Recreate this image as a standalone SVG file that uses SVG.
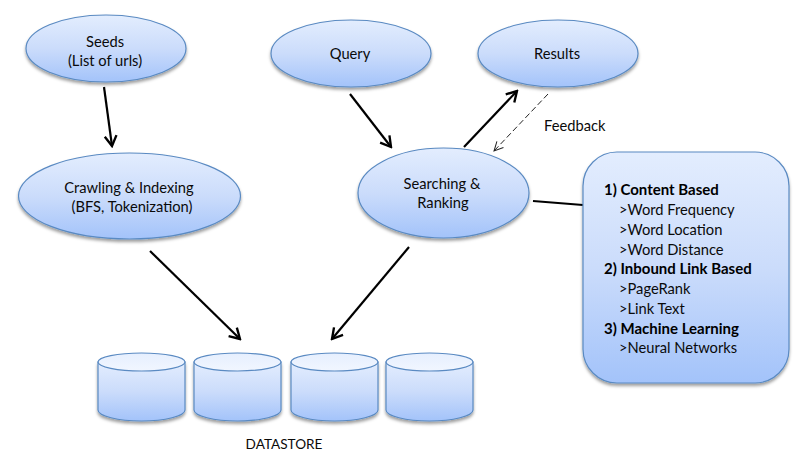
<svg xmlns="http://www.w3.org/2000/svg" width="811" height="464" viewBox="0 0 811 464">
<defs>
<linearGradient id="g" x1="0" y1="0" x2="0" y2="1"><stop offset="0" stop-color="#e3edfe"/><stop offset="0.5" stop-color="#cbdcfb"/><stop offset="1" stop-color="#a3c3fa"/></linearGradient>
<linearGradient id="gt" x1="0" y1="0" x2="0" y2="1"><stop offset="0" stop-color="#e6effe"/><stop offset="1" stop-color="#f1f6ff"/></linearGradient>
<filter id="s" x="-10%" y="-10%" width="120%" height="125%"><feDropShadow dx="0" dy="2.5" stdDeviation="1.8" flood-color="#000" flood-opacity="0.38"/></filter>
<marker id="a" viewBox="0 0 14 14" refX="12.5" refY="7" markerWidth="15" markerHeight="15" markerUnits="userSpaceOnUse" orient="auto"><path d="M3 1.5L12.5 7L3 12.5" fill="none" stroke="#000" stroke-width="2.2"/></marker>
<marker id="d" viewBox="0 0 12 12" refX="11" refY="6" markerWidth="12" markerHeight="12" markerUnits="userSpaceOnUse" orient="auto"><path d="M2 1.5L11 6L2 10.5" fill="none" stroke="#222" stroke-width="1"/></marker>
</defs>
<style>
.n{fill:url(#g);stroke:#5a8ac2;stroke-width:1.2;filter:url(#s)}
.t{fill:url(#gt);stroke:#5a8ac2;stroke-width:1.2}
text{font-family:Lato,"Open Sans","Liberation Sans",sans-serif;font-size:14.7px;fill:#0a0a0a}
.m{text-anchor:middle}
.b{font-weight:700;font-size:15px;fill:#000}
.l{stroke:#000;stroke-width:2.2;fill:none;marker-end:url(#a)}
</style>
<rect width="811" height="464" fill="#fff"/>
<g id="connectors">
<line class="l" x1="104" y1="87" x2="112" y2="146"/>
<line class="l" x1="350" y1="94" x2="391" y2="147"/>
<line class="l" x1="464" y1="147" x2="517" y2="91"/>
<line x1="548" y1="94" x2="494" y2="151" stroke="#222" stroke-width="1" stroke-dasharray="6 3" marker-end="url(#d)"/>
<line class="l" x1="150" y1="251" x2="240" y2="339"/>
<line class="l" x1="409" y1="247" x2="332" y2="339"/>
<line x1="533" y1="201" x2="583" y2="205" stroke="#000" stroke-width="2.2"/>
</g>
<g id="seeds"><ellipse class="n" cx="106" cy="48.5" rx="80" ry="33.500"/><text class="m" x="105" y="47">Seeds</text><text class="m" x="105" y="66">(List of urls)</text></g>
<g id="crawling"><ellipse class="n" cx="129.500" cy="196" rx="111" ry="43"/><text class="m" x="129" y="193">Crawling &amp; Indexing</text><text class="m" x="132" y="212">(BFS, Tokenization)</text></g>
<g id="query"><ellipse class="n" cx="351" cy="53.500" rx="80" ry="33.500"/><text class="m" x="350" y="59">Query</text></g>
<g id="results"><ellipse class="n" cx="558" cy="53.500" rx="80" ry="33.500"/><text class="m" x="557" y="59">Results</text></g>
<g id="feedback"><text x="544" y="131">Feedback</text></g>
<g id="searching"><ellipse class="n" cx="443.500" cy="193" rx="85.500" ry="45"/><text class="m" x="442" y="189">Searching &amp;</text><text class="m" x="443" y="208">Ranking</text></g>
<g id="details"><rect class="n" x="583" y="152" width="206" height="231" rx="34" ry="34"/>
<text class="b" x="604" y="195">1) Content Based</text>
<text x="619" y="215">&gt;Word Frequency</text>
<text x="619" y="235">&gt;Word Location</text>
<text x="619" y="255">&gt;Word Distance</text>
<text class="b" x="604" y="274">2) Inbound Link Based</text>
<text x="619" y="294">&gt;PageRank</text>
<text x="619" y="314">&gt;Link Text</text>
<text class="b" x="604" y="334">3) Machine Learning</text>
<text x="619" y="353">&gt;Neural Networks</text></g>
<g id="db1"><path class="n" d="M98 362V410C98 416 118 421 141.500 421S185 416 185 410V362Z"/><ellipse class="t" cx="141.500" cy="362" rx="43.500" ry="9"/></g>
<g id="db2"><path class="n" d="M194 362V410C194 416 214 421 237.500 421S281 416 281 410V362Z"/><ellipse class="t" cx="237.500" cy="362" rx="43.500" ry="9"/></g>
<g id="db3"><path class="n" d="M291 362V410C291 416 311 421 334.500 421S378 416 378 410V362Z"/><ellipse class="t" cx="334.500" cy="362" rx="43.500" ry="9"/></g>
<g id="db4"><path class="n" d="M386 362V410C386 416 406 421 429.500 421S473 416 473 410V362Z"/><ellipse class="t" cx="429.500" cy="362" rx="43.500" ry="9"/></g>
<g id="datastore"><text class="m" x="284" y="449" style="font-size:13.6px">DATASTORE</text></g>
</svg>
